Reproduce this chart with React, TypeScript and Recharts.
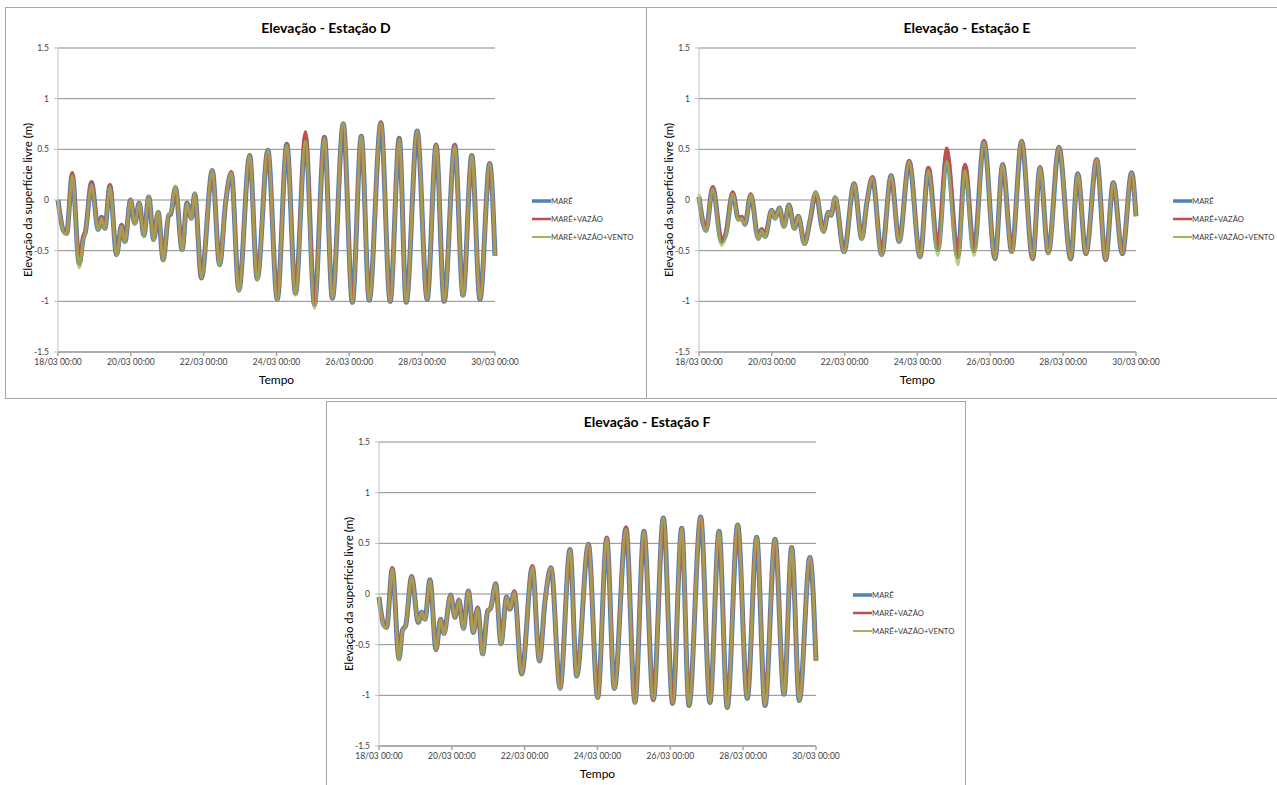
import { LineChart, Line, XAxis, YAxis, CartesianGrid, Legend } from 'recharts'

// Horas contadas a partir de 18/03 00:00
const TICK_HOURS = [0, 48, 96, 144, 192, 240, 288]
const TICK_LABELS = ['18/03 00:00', '20/03 00:00', '22/03 00:00', '24/03 00:00', '26/03 00:00', '28/03 00:00', '30/03 00:00']
const Y_TICKS = [-1.5, -1, -0.5, 0, 0.5, 1, 1.5]

// Estação D
const horasD = [
  0, 3.5, 5.7, 9.4, 14.0, 16.7, 18.0, 22.1, 26.5, 28.7,
  30.9, 34.2, 38.6, 41.9, 44.1, 47.8, 50.6, 53.5, 56.6, 59.8,
  63.1, 66.0, 69.3, 73.0, 74.3, 77.4, 81.8, 85.0, 87.9, 90.1,
  94.5, 101.7, 106.5, 110.5, 114.2, 119.2, 126.3, 131.3, 138.3, 144.5,
  150.8, 156.5, 163.1, 169.0, 175.6, 180.8, 188.0, 194.0, 199.9, 205.1,
  212.8, 218.9, 224.9, 229.5, 236.7, 243.3, 249.2, 254.5, 261.5, 266.9,
  272.7, 278.1, 284.5, 288,
]
const mareD = [
  0.0, -0.30, -0.33, 0.25, -0.63, -0.37, -0.32, 0.17, -0.29, -0.17,
  -0.28, 0.14, -0.54, -0.25, -0.41, 0.0, -0.23, -0.03, -0.35, 0.03,
  -0.39, -0.12, -0.59, -0.15, -0.14, 0.12, -0.49, -0.03, -0.18, 0.06,
  -0.77, 0.29, -0.64, -0.02, 0.27, -0.89, 0.44, -0.78, 0.49, -0.98,
  0.55, -0.92, 0.62, -1.03, 0.62, -0.97, 0.75, -1.01, 0.63, -0.99,
  0.76, -1.0, 0.61, -1.01, 0.68, -0.98, 0.54, -1.0, 0.54, -0.94,
  0.44, -0.98, 0.36, -0.55,
]
const mareVazaoD = [
  0.0, -0.30, -0.33, 0.27, -0.63, -0.36, -0.31, 0.18, -0.28, -0.17,
  -0.27, 0.15, -0.53, -0.25, -0.40, 0.0, -0.23, -0.03, -0.34, 0.03,
  -0.39, -0.12, -0.59, -0.15, -0.14, 0.12, -0.49, -0.03, -0.18, 0.06,
  -0.77, 0.29, -0.64, -0.02, 0.28, -0.89, 0.44, -0.78, 0.49, -0.98,
  0.55, -0.92, 0.67, -1.03, 0.62, -0.97, 0.76, -1.01, 0.63, -0.99,
  0.77, -1.0, 0.61, -1.01, 0.68, -0.98, 0.55, -1.0, 0.54, -0.94,
  0.44, -0.98, 0.36, -0.55,
]
const mareVazaoVentoD = [
  0.0, -0.31, -0.34, 0.24, -0.67, -0.39, -0.33, 0.15, -0.30, -0.18,
  -0.29, 0.13, -0.55, -0.26, -0.42, 0.0, -0.24, -0.03, -0.36, 0.04,
  -0.40, -0.11, -0.60, -0.14, -0.13, 0.14, -0.50, -0.03, -0.19, 0.07,
  -0.77, 0.29, -0.65, -0.02, 0.27, -0.90, 0.44, -0.79, 0.49, -0.99,
  0.54, -0.94, 0.58, -1.07, 0.61, -0.97, 0.76, -1.01, 0.63, -0.99,
  0.76, -1.0, 0.60, -1.01, 0.68, -0.98, 0.54, -1.0, 0.53, -0.95,
  0.44, -0.98, 0.36, -0.55,
]

// Estação E
const horasE = [
  0, 4.6, 9.0, 14.9, 17.8, 22.2, 26.0, 28.1, 30.3, 34.1,
  39.1, 41.3, 43.5, 47.9, 50.1, 53.0, 56.0, 59.3, 62.9, 65.5,
  69.5, 73.2, 76.9, 82.0, 85.3, 87.0, 89.7, 95.6, 102.2, 107.3,
  110.6, 114.3, 120.4, 126.6, 131.9, 138.5, 145.7, 151.2, 157.4, 163.3,
  170.6, 175.3, 181.2, 187.8, 195.1, 200.1, 206.1, 212.6, 219.9, 224.7,
  230.2, 237.2, 245.0, 249.6, 255.0, 262.1, 268.0, 273.0, 279.0, 285.1,
  288,
]
const mareE = [
  0.03, -0.30, 0.12, -0.41, -0.33, 0.07, -0.19, -0.17, -0.24, 0.05,
  -0.38, -0.29, -0.36, -0.10, -0.18, -0.08, -0.26, -0.05, -0.28, -0.16,
  -0.43, -0.20, 0.07, -0.31, -0.12, -0.15, 0.02, -0.51, 0.16, -0.38,
  -0.03, 0.22, -0.54, 0.24, -0.41, 0.38, -0.56, 0.31, -0.49, 0.45,
  -0.56, 0.33, -0.50, 0.58, -0.58, 0.35, -0.51, 0.58, -0.58, 0.32,
  -0.52, 0.52, -0.58, 0.26, -0.53, 0.40, -0.59, 0.17, -0.53, 0.27,
  -0.16,
]
const mareVazaoE = [
  0.03, -0.29, 0.13, -0.40, -0.32, 0.08, -0.19, -0.17, -0.24, 0.06,
  -0.37, -0.29, -0.35, -0.10, -0.18, -0.08, -0.26, -0.05, -0.28, -0.16,
  -0.43, -0.20, 0.07, -0.31, -0.12, -0.15, 0.02, -0.51, 0.16, -0.38,
  -0.03, 0.23, -0.54, 0.24, -0.41, 0.39, -0.56, 0.32, -0.47, 0.51,
  -0.56, 0.35, -0.49, 0.58, -0.58, 0.35, -0.51, 0.58, -0.58, 0.32,
  -0.52, 0.52, -0.58, 0.26, -0.53, 0.40, -0.59, 0.17, -0.53, 0.27,
  -0.16,
]
const mareVazaoVentoE = [
  0.06, -0.31, 0.11, -0.45, -0.35, 0.06, -0.20, -0.18, -0.25, 0.05,
  -0.39, -0.30, -0.37, -0.10, -0.19, -0.08, -0.27, -0.05, -0.29, -0.16,
  -0.44, -0.19, 0.09, -0.32, -0.12, -0.15, 0.04, -0.52, 0.16, -0.39,
  -0.03, 0.22, -0.55, 0.24, -0.42, 0.38, -0.57, 0.29, -0.55, 0.38,
  -0.64, 0.29, -0.55, 0.57, -0.58, 0.35, -0.52, 0.58, -0.58, 0.32,
  -0.53, 0.52, -0.58, 0.26, -0.53, 0.40, -0.59, 0.17, -0.53, 0.27,
  -0.16,
]

// Estação F
const horasF = [
  0, 3.0, 5.0, 8.8, 13.2, 15.4, 17.6, 21.5, 25.9, 28.1,
  30.3, 33.6, 37.6, 40.6, 42.8, 47.2, 50.1, 52.7, 55.6, 58.9,
  62.2, 65.0, 68.3, 71.6, 73.6, 76.9, 80.4, 84.1, 86.3, 89.2,
  94.0, 101.1, 105.7, 109.4, 113.4, 119.3, 125.9, 130.3, 138.0, 144.1,
  150.1, 155.1, 162.8, 168.7, 174.6, 180.8, 187.4, 193.5, 199.5, 204.3,
  212.0, 218.1, 224.1, 229.5, 236.4, 242.7, 248.9, 254.4, 261.0, 266.9,
  272.0, 277.0, 284.0, 288,
]
const mareF = [
  -0.03, -0.30, -0.33, 0.25, -0.64, -0.36, -0.31, 0.17, -0.28, -0.18,
  -0.25, 0.14, -0.55, -0.25, -0.39, -0.01, -0.23, -0.06, -0.34, 0.03,
  -0.38, -0.14, -0.59, -0.17, -0.14, 0.10, -0.49, -0.03, -0.15, 0.02,
  -0.79, 0.27, -0.66, -0.07, 0.26, -0.93, 0.44, -0.81, 0.49, -1.02,
  0.55, -0.93, 0.65, -1.07, 0.62, -1.04, 0.75, -1.08, 0.65, -1.10,
  0.76, -1.07, 0.62, -1.12, 0.68, -1.03, 0.56, -1.10, 0.54, -0.99,
  0.46, -1.05, 0.36, -0.66,
]
const mareVazaoF = [
  -0.03, -0.30, -0.33, 0.26, -0.64, -0.36, -0.31, 0.18, -0.28, -0.18,
  -0.25, 0.14, -0.55, -0.25, -0.39, -0.01, -0.23, -0.06, -0.34, 0.03,
  -0.38, -0.13, -0.59, -0.17, -0.14, 0.10, -0.49, -0.03, -0.15, 0.03,
  -0.79, 0.28, -0.66, -0.07, 0.26, -0.93, 0.44, -0.81, 0.49, -1.03,
  0.56, -0.94, 0.66, -1.07, 0.62, -1.05, 0.75, -1.08, 0.65, -1.10,
  0.76, -1.07, 0.62, -1.12, 0.68, -1.03, 0.56, -1.10, 0.54, -0.99,
  0.46, -1.05, 0.36, -0.66,
]
const mareVazaoVentoF = [
  -0.03, -0.31, -0.34, 0.25, -0.65, -0.37, -0.31, 0.17, -0.28, -0.18,
  -0.26, 0.14, -0.55, -0.25, -0.40, -0.01, -0.23, -0.06, -0.35, 0.03,
  -0.38, -0.14, -0.60, -0.17, -0.14, 0.10, -0.50, -0.03, -0.15, 0.02,
  -0.79, 0.27, -0.66, -0.07, 0.26, -0.94, 0.44, -0.81, 0.49, -1.03,
  0.55, -0.94, 0.64, -1.08, 0.62, -1.04, 0.75, -1.08, 0.65, -1.10,
  0.76, -1.07, 0.62, -1.12, 0.68, -1.03, 0.56, -1.10, 0.54, -0.99,
  0.46, -1.05, 0.36, -0.66,
]

const FONT = 'Lato, "Open Sans", sans-serif'

// a série com vento fica por cima, ligeiramente translúcida sobre a vermelha
const SERIES = [
  { key: 'mare', name: 'MARÉ', color: '#4F81BD', width: 5, opacity: 1, legendWidth: 3.5 },
  { key: 'mareVazao', name: 'MARÉ+VAZÃO', color: '#C0504D', width: 3.5, opacity: 1, legendWidth: 2.5 },
  { key: 'mareVazaoVento', name: 'MARÉ+VAZÃO+VENTO', color: '#9BBB59', width: 3, opacity: 0.72, legendWidth: 2 },
]

function buildRows(horas: number[], a: number[], b: number[], c: number[]) {
  return horas.map((h, i) => ({ h, mare: a[i], mareVazao: b[i], mareVazaoVento: c[i] }))
}

const rowsD = buildRows(horasD, mareD, mareVazaoD, mareVazaoVentoD)
const rowsE = buildRows(horasE, mareE, mareVazaoE, mareVazaoVentoE)
const rowsF = buildRows(horasF, mareF, mareVazaoF, mareVazaoVentoF)

function LegendBox() {
  return (
    <div style={{ fontFamily: FONT, fontSize: 7.7, color: '#404040', whiteSpace: 'nowrap' }}>
      {SERIES.map((s) => (
        <div key={s.key} style={{ display: 'flex', alignItems: 'center', height: 18 }}>
          <svg width={19} height={6} style={{ display: 'block' }}>
            <line x1={0} y1={3} x2={19} y2={3} stroke={s.color} strokeWidth={s.legendWidth} />
          </svg>
          <span>{s.name}</span>
        </div>
      ))}
    </div>
  )
}

interface StationProps {
  title: string
  rows: ReturnType<typeof buildRows>
  left: number
  top: number
  width: number
  rightBorder?: boolean
}

function StationChart({ title, rows, left, top, width, rightBorder = true }: StationProps) {
  const height = 390
  return (
    <div
      style={{
        position: 'absolute',
        left: left - 1,
        top: top - 1,
        width,
        height,
        background: '#fff',
        borderTop: '1px solid #a6a6a6',
        borderLeft: '1px solid #a6a6a6',
        borderBottom: '1px solid #a6a6a6',
        borderRight: rightBorder ? '1px solid #a6a6a6' : 'none',
      }}
    >
      <div
        style={{
          position: 'absolute',
          top: 13,
          left: 0,
          width: 640,
          textAlign: 'center',
          fontFamily: FONT,
          fontWeight: 'bold',
          fontSize: 14,
          lineHeight: '14px',
          color: '#000',
        }}
      >
        {title}
      </div>
      <LineChart
        width={width}
        height={height}
        data={rows}
        margin={{ top: 40, right: width - 489, left: 0, bottom: 0 }}
      >
        <CartesianGrid vertical={false} stroke="#8c8c8c" />
        <XAxis
          dataKey="h"
          type="number"
          domain={[0, 288]}
          ticks={TICK_HOURS}
          interval={0}
          tickFormatter={(v: number) => TICK_LABELS[TICK_HOURS.indexOf(v)]}
          height={46}
          stroke="#a6a6a6"
          strokeWidth={1.5}
          tickSize={4}
          tickMargin={3}
          tick={{ fontSize: 8.5, fill: '#404040', fontFamily: FONT }}
          label={{ value: 'Tempo', position: 'insideBottom', offset: 14, fill: '#000', fontSize: 12, fontFamily: FONT }}
        />
        <YAxis
          domain={[-1.5, 1.5]}
          ticks={Y_TICKS}
          interval={0}
          width={52}
          stroke="#bfbfbf"
          tickSize={4}
          tickMargin={5}
          tick={{ fontSize: 8.5, fill: '#404040', fontFamily: FONT }}
          label={{
            value: 'Elevação da superfície livre (m)',
            angle: -90,
            position: 'insideLeft',
            offset: 22,
            fill: '#000',
            fontSize: 11.5,
            fontFamily: FONT,
            style: { textAnchor: 'middle' },
          }}
        />
        {SERIES.map((s) => (
          <Line
            key={s.key}
            type="monotone"
            dataKey={s.key}
            name={s.name}
            stroke={s.color}
            strokeWidth={s.width}
            strokeOpacity={s.opacity}
            dot={false}
            activeDot={false}
            isAnimationActive={false}
          />
        ))}
        <Legend
          layout="vertical"
          align="center"
          verticalAlign="middle"
          wrapperStyle={{ left: 526, top: 184, width: 110 }}
          content={() => <LegendBox />}
        />
      </LineChart>
    </div>
  )
}

export default function App() {
  return (
    <div
      style={{
        position: 'absolute',
        left: 0,
        top: 0,
        width: 1277,
        height: 785,
        overflow: 'hidden',
        background: '#fff',
      }}
    >
      <StationChart title="Elevação - Estação D" rows={rowsD} left={6} top={8} width={640} />
      <StationChart title="Elevação - Estação E" rows={rowsE} left={647} top={8} width={640} rightBorder={false} />
      <StationChart title="Elevação - Estação F" rows={rowsF} left={327} top={402} width={638} />
    </div>
  )
}
